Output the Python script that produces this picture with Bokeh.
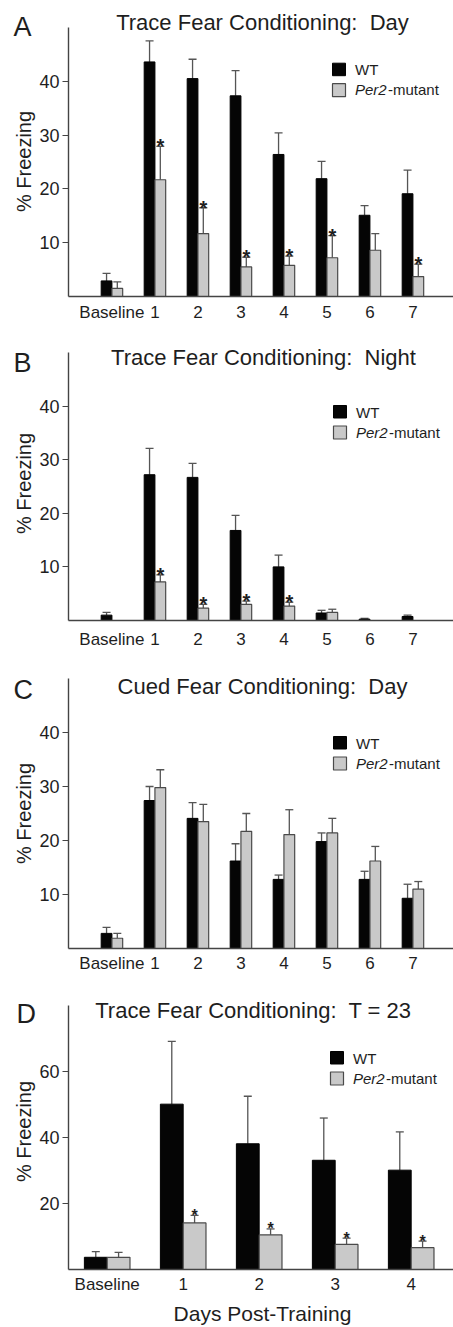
import math
from bokeh.plotting import figure
from bokeh.models import Range1d, FixedTicker, Whisker, TeeHead, ColumnDataSource, Label, BoxAnnotation
from bokeh.layouts import column
from bokeh.embed import file_html
from bokeh.resources import INLINE
from bokeh.core.properties import value

# ---------------- data ----------------
cats_7 = ["Baseline", "1", "2", "3", "4", "5", "6", "7"]
cats_4 = ["Baseline", "1", "2", "3", "4"]

a_wt = [2.9, 43.6, 40.5, 37.3, 26.4, 21.9, 15.1, 19.1]
a_wt_up = [4.3, 47.5, 44.1, 42.0, 30.4, 25.1, 16.9, 23.5]
a_mut = [1.5, 21.7, 11.7, 5.5, 5.8, 7.2, 8.6, 3.7]
a_mut_up = [2.7, 27.9, 16.5, 7.3, 7.5, 11.3, 11.7, 6.0]
a_sig = [False, True, True, True, True, True, False, True]

b_wt = [1.0, 27.2, 26.7, 16.8, 10.0, 1.4, 0.25, 0.75]
b_wt_up = [1.5, 32.1, 29.3, 19.6, 12.2, 1.9, 0.4, 1.0]
b_mut = [0.0, 7.2, 2.3, 3.0, 2.7, 1.5, 0.0, 0.0]
b_mut_up = [0.0, 8.5, 3.0, 3.6, 3.4, 2.1, 0.0, 0.0]
b_sig = [False, True, True, True, True, False, False, False]

c_wt = [2.8, 27.4, 24.1, 16.2, 12.8, 19.8, 12.8, 9.3]
c_wt_up = [3.9, 30.0, 27.0, 19.4, 13.6, 21.4, 14.3, 11.9]
c_mut = [1.9, 29.8, 23.5, 21.7, 21.1, 21.4, 16.2, 11.0]
c_mut_up = [2.8, 33.1, 26.7, 25.0, 25.7, 24.1, 18.9, 12.4]
c_sig = [False] * 8

d_wt = [3.7, 50.1, 38.1, 33.1, 30.1]
d_wt_up = [5.4, 69.1, 52.5, 45.9, 41.7]
d_mut = [3.7, 14.1, 10.5, 7.6, 6.6]
d_mut_up = [5.2, 16.4, 12.3, 9.5, 8.6]
d_sig = [False, True, True, True, True]

titles = ["Trace Fear Conditioning:\u00a0 Day",
          "Trace Fear Conditioning:\u00a0 Night",
          "Cued Fear Conditioning:\u00a0 Day",
          "Trace Fear Conditioning:\u00a0 T = 23"]

# ---------------- style ----------------
FONT = "Liberation Sans"
TXT = "#1e1e1e"
AX = "#444444"
WT_FILL = "#050505"
MUT_FILL = "#c9c9c9"
MUT_LINE = "#4a4a4a"
ERR = "#555555"
W = 453
AXIS_X = 68        # pixel position of the y axis line
SHIFT = 0.4        # label anchor correction (em)


def make_panel(letter, title, cats, wt, wt_up, mut, mut_up, sig, cfg):
    n = len(cats)
    fig_top, fig_bot = cfg["fig_top"], cfg["fig_bot"]
    fr_top, fr_bot = cfg["frame_top"], cfg["frame_bot"]
    ymax = cfg["ymax"]
    sy = (fr_bot - fr_top) / ymax
    sx = cfg["sx"]
    x0 = cfg["x0"]

    def X(px):
        return x0 + (px - AXIS_X) / sx

    def Y(py):
        return ymax - (py - fr_top) / sy

    def label(px, base, text, fs, **kw):
        return Label(x=X(px), y=Y(base - SHIFT * fs), text=text, text_font=FONT,
                     text_font_size=f"{fs}px", text_color=TXT,
                     text_baseline="alphabetic", **kw)

    p = figure(width=W, height=fig_bot - fig_top,
               x_range=Range1d(X(0), X(W)), y_range=Range1d(Y(fig_bot), Y(fig_top)),
               output_backend="svg", toolbar_location=None,
               min_border=0, min_border_left=0, min_border_right=0,
               min_border_top=0, min_border_bottom=0)
    p.outline_line_color = None
    p.xgrid.visible = False
    p.ygrid.visible = False
    p.background_fill_color = "white"
    p.border_fill_color = "white"

    bw = cfg["bw"]
    xs_wt = [i - bw / 2 for i in range(n)]
    xs_mut = [i + bw / 2 for i in range(n)]

    wt_src = ColumnDataSource(dict(x=[x for x, v in zip(xs_wt, wt) if v > 0],
                                   top=[v for v in wt if v > 0]))
    mut_src = ColumnDataSource(dict(x=[x for x, v in zip(xs_mut, mut) if v > 0],
                                    top=[v for v in mut if v > 0]))
    p.vbar(x="x", top="top", bottom=0, width=bw, source=wt_src,
           fill_color=WT_FILL, line_color="#000000", line_width=1)
    p.vbar(x="x", top="top", bottom=0, width=bw, source=mut_src,
           fill_color=MUT_FILL, line_color=MUT_LINE, line_width=1.2)

    ex, elo, ehi = [], [], []
    for xs, vals, ups in ((xs_wt, wt, wt_up), (xs_mut, mut, mut_up)):
        for x, v, u in zip(xs, vals, ups):
            if u > v:
                ex.append(x); elo.append(v); ehi.append(u)
    esrc = ColumnDataSource(dict(x=ex, lower=elo, upper=ehi))
    p.add_layout(Whisker(source=esrc, base="x", lower="lower", upper="upper",
                         dimension="height", line_color=ERR, line_width=1.3,
                         lower_head=None,
                         upper_head=TeeHead(size=cfg["cap"], line_color=ERR, line_width=1.3)))

    sx_ = [x for x, s in zip(xs_mut, sig) if s]
    sy_ = [u for u, s in zip(mut_up, sig) if s]
    if sx_:
        p.text(x=sx_, y=sy_, text=["*"] * len(sx_), text_font=value(FONT),
               text_font_size=cfg["star"], text_font_style="bold", text_color=TXT,
               text_align="center", text_baseline="alphabetic", y_offset=cfg["star_off"])

    # axes drawn at fixed data locations inside the full-size frame
    p.xaxis.fixed_location = 0
    p.xaxis.bounds = (x0, X(W))
    p.xaxis.ticker = FixedTicker(ticks=list(range(n)))
    p.xaxis.major_label_overrides = {i: c for i, c in enumerate(cats)}
    p.xaxis.major_tick_out = 0
    p.xaxis.major_tick_in = 0
    p.xaxis.minor_tick_out = 0
    p.xaxis.minor_tick_in = 0
    p.xaxis.axis_line_color = AX
    p.xaxis.axis_line_width = 1.4
    p.xaxis.major_label_text_font = FONT
    p.xaxis.major_label_text_font_size = "17px"
    p.xaxis.major_label_text_color = TXT
    p.xaxis.major_label_standoff = cfg["xstand"]

    p.yaxis.fixed_location = x0
    p.yaxis.bounds = (0, ymax)
    p.yaxis.ticker = FixedTicker(ticks=cfg["yticks"])
    p.yaxis.major_tick_out = 6
    p.yaxis.major_tick_in = 0
    p.yaxis.minor_tick_out = 0
    p.yaxis.minor_tick_in = 0
    p.yaxis.axis_line_color = AX
    p.yaxis.axis_line_width = 1.4
    p.yaxis.major_tick_line_color = AX
    p.yaxis.major_tick_line_width = 1.2
    p.yaxis.major_label_text_font = FONT
    p.yaxis.major_label_text_font_size = "18px"
    p.yaxis.major_label_text_color = TXT
    p.yaxis.major_label_standoff = 3

    # texts
    p.add_layout(label(cfg["letter_x"], cfg["letter_base"], letter, 27, text_align="left"))
    p.add_layout(label(cfg["title_cx"], cfg["title_base"], title, 22, text_align="center"))
    p.add_layout(Label(x=X(31 - SHIFT * 20), y=Y(cfg["ylab_cy"]), text="% Freezing",
                       angle=math.pi / 2, text_font=FONT, text_font_size="20px",
                       text_color=TXT, text_align="center", text_baseline="alphabetic"))

    # legend
    lx, ly = cfg["leg_x"], cfg["leg_y"]
    p.add_layout(BoxAnnotation(left=X(lx), right=X(lx + 13), top=Y(ly), bottom=Y(ly + 12.5),
                               fill_color=WT_FILL, fill_alpha=1, line_color="#000000",
                               line_alpha=1, line_width=1, level="overlay"))
    p.add_layout(BoxAnnotation(left=X(lx), right=X(lx + 13), top=Y(ly + 20.5), bottom=Y(ly + 33.5),
                               fill_color=MUT_FILL, fill_alpha=1, line_color=MUT_LINE,
                               line_alpha=1, line_width=1.2, level="overlay"))
    p.add_layout(label(lx + 22.5, ly + 12.5, "WT", 15))
    p.add_layout(label(lx + 22.5, ly + 32.5, "Per2", 15, text_font_style="italic"))
    p.add_layout(label(lx + 22.5 + 33, ly + 32.5, "-mutant", 15))

    if cfg.get("xtitle"):
        p.add_layout(label(262, cfg["xtitle_base"], cfg["xtitle"], 21, text_align="center"))
    return p


cfgA = dict(fig_top=0, fig_bot=325, frame_top=27, frame_bot=296, ymax=50, x0=-1.01, sx=43.0,
            bw=0.25, cap=8, star="20px", star_off=0, xstand=6, yticks=[10, 20, 30, 40],
            letter_x=13, letter_base=37, title_cx=262, title_base=31, ylab_cy=161,
            leg_x=332, leg_y=62.7)
cfgB = dict(fig_top=325, fig_bot=648, frame_top=352, frame_bot=620, ymax=50, x0=-1.01, sx=43.0,
            bw=0.25, cap=8, star="20px", star_off=0, xstand=9, yticks=[10, 20, 30, 40],
            letter_x=13, letter_base=373, title_cx=263, title_base=366, ylab_cy=483,
            leg_x=333, leg_y=405)
cfgC = dict(fig_top=648, fig_bot=975, frame_top=678, frame_bot=948, ymax=50, x0=-1.01, sx=43.0,
            bw=0.25, cap=8, star="20px", star_off=0, xstand=5, yticks=[10, 20, 30, 40],
            letter_x=13, letter_base=700, title_cx=262, title_base=695, ylab_cy=813,
            leg_x=333, leg_y=736)
cfgD = dict(fig_top=975, fig_bot=1327, frame_top=1005, frame_bot=1269, ymax=80, x0=-0.509, sx=76.0,
            bw=0.30, cap=8, star="16px", star_off=0, xstand=5, yticks=[20, 40, 60],
            letter_x=16, letter_base=1024, title_cx=253, title_base=1019, ylab_cy=1131,
            leg_x=330, leg_y=1051, xtitle="Days Post-Training", xtitle_base=1321)

pA = make_panel("A", titles[0], cats_7, a_wt, a_wt_up, a_mut, a_mut_up, a_sig, cfgA)
pB = make_panel("B", titles[1], cats_7, b_wt, b_wt_up, b_mut, b_mut_up, b_sig, cfgB)
pC = make_panel("C", titles[2], cats_7, c_wt, c_wt_up, c_mut, c_mut_up, c_sig, cfgC)
pD = make_panel("D", titles[3], cats_4, d_wt, d_wt_up, d_mut, d_mut_up, d_sig, cfgD)

layout = column(pA, pB, pC, pD, spacing=0)
open("out.html", "w").write(file_html(layout, INLINE))
